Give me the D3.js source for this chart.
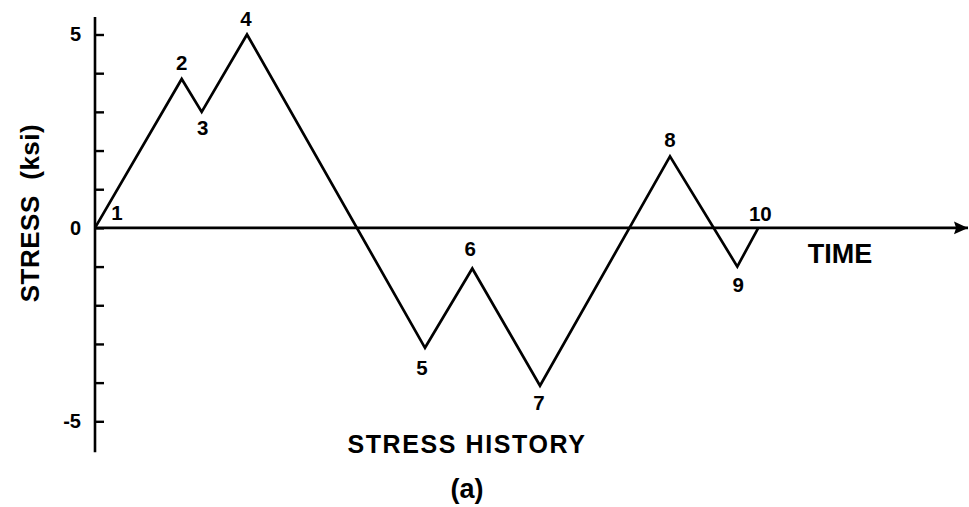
<!DOCTYPE html>
<html>
<head>
<meta charset="utf-8">
<script src="https://cdn.jsdelivr.net/npm/d3@7"></script>
<style>
  html, body { margin: 0; padding: 0; background: #fff; }
  svg { display: block; }
  text { font-family: "Liberation Sans", Arial, sans-serif; font-weight: bold; fill: #000; }
</style>
</head>
<body>
<svg id="chart" width="969" height="507"></svg>
<script>
// Stress history: turning points of the load sequence
const pointLabels = ["1", "2", "3", "4", "5", "6", "7", "8", "9", "10"];
const timeValues  = [0, 8.67, 10.67, 15.2, 33.0, 37.73, 44.5, 57.5, 64.23, 66.33];
const stressKsi   = [0, 3.85, 3.0, 5.0, -3.1, -1.05, -4.08, 1.85, -1.0, 0];
const yTickValues = [-5, -4, -3, -2, -1, 0, 1, 2, 3, 4, 5];
const yTickLabels = ["-5", "0", "5"];

const svg = d3.select("#chart");

const x = d3.scaleLinear().domain([0, 87.3]).range([95, 968]);
const y = d3.scaleLinear().domain([-5, 5]).range([421.3, 34.5]);

// label placement around each turning point (dx, dy in px)
const labelOffsets = [[22, -15], [0, -16], [1, 16], [-1, -16], [-3, 20],
                      [-2, -20], [-1, 17], [0, -17], [1, 18], [2, -14]];

// arrowhead for the time axis
svg.append("defs").append("marker")
  .attr("id", "arrow")
  .attr("viewBox", "0 0 10 10")
  .attr("refX", 10).attr("refY", 5)
  .attr("markerWidth", 15).attr("markerHeight", 14)
  .attr("markerUnits", "userSpaceOnUse")
  .attr("orient", "auto")
  .append("path")
  .attr("d", "M0,0.5 L10,5 L0,9.5 L1.5,5 Z")
  .attr("fill", "#000");

// stress axis with ticks on the inside
const yAxis = d3.axisLeft(y)
  .tickValues(yTickValues)
  .tickSize(-9)
  .tickPadding(14)
  .tickFormat(d => yTickLabels.includes(String(d)) ? String(d) : "");

const gy = svg.append("g")
  .attr("transform", `translate(${x(0)},0)`)
  .call(yAxis);
gy.select(".domain").remove();
gy.selectAll(".tick line").attr("stroke", "#000").attr("stroke-width", 2.4);
gy.selectAll(".tick text")
  .attr("font-size", 20)
  .attr("font-family", "Liberation Sans, Arial, sans-serif")
  .attr("font-weight", "bold")
  .attr("fill", "#000");

// vertical axis line
svg.append("line")
  .attr("x1", x(0)).attr("x2", x(0))
  .attr("y1", y(5.45)).attr("y2", y(-5.8))
  .attr("stroke", "#000").attr("stroke-width", 2.6);

// time axis along zero stress
svg.append("line")
  .attr("x1", x(0)).attr("x2", x(87.3))
  .attr("y1", y(0)).attr("y2", y(0))
  .attr("stroke", "#000").attr("stroke-width", 2.6)
  .attr("marker-end", "url(#arrow)");

// stress history polyline
const pts = timeValues.map((t, i) => ({ t, s: stressKsi[i], label: pointLabels[i] }));
svg.append("path")
  .datum(pts)
  .attr("fill", "none")
  .attr("stroke", "#000")
  .attr("stroke-width", 2.7)
  .attr("stroke-linejoin", "miter")
  .attr("d", d3.line().x(d => x(d.t)).y(d => y(d.s)));

// turning point numbers
svg.selectAll(".pt-label")
  .data(pts)
  .join("text")
  .attr("class", "pt-label")
  .attr("x", (d, i) => x(d.t) + labelOffsets[i][0])
  .attr("y", (d, i) => y(d.s) + labelOffsets[i][1])
  .attr("text-anchor", "middle")
  .attr("dominant-baseline", "central")
  .attr("font-size", 20.5)
  .text(d => d.label);

// axis titles
svg.append("text")
  .attr("transform", "translate(39,213) rotate(-90)")
  .attr("text-anchor", "middle")
  .attr("font-size", 26)
  .attr("letter-spacing", 0.5)
  .attr("xml:space", "preserve")
  .text("STRESS  (ksi)");

svg.append("text")
  .attr("x", 840).attr("y", 263)
  .attr("text-anchor", "middle")
  .attr("font-size", 27)
  .text("TIME");

svg.append("text")
  .attr("x", 467).attr("y", 453)
  .attr("text-anchor", "middle")
  .attr("font-size", 25)
  .attr("letter-spacing", 1.6)
  .text("STRESS HISTORY");

svg.append("text")
  .attr("x", 467).attr("y", 498)
  .attr("text-anchor", "middle")
  .attr("font-size", 27)
  .text("(a)");
</script>
</body>
</html>
